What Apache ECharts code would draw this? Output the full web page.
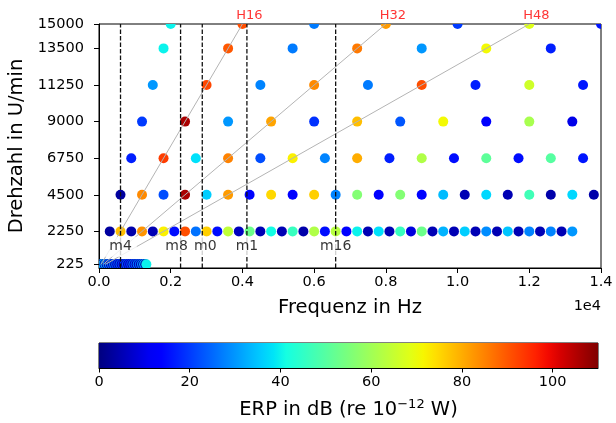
<!DOCTYPE html>
<html><head><meta charset="utf-8">
<script src="https://cdn.jsdelivr.net/npm/echarts@6/dist/echarts.min.js"></script>
<style>html,body{margin:0;padding:0;background:#fff}#c{width:616px;height:423px}</style>
</head><body><div id="c"></div>
<script>
// ---------- data ----------
const yTicks = [225, 2250, 4500, 6750, 9000, 11250, 13500, 15000];
const cbTicks = [0, 20, 40, 60, 80, 100];

const f225 = [30,60,90,120,150,180,210,240,270,300,330,360,390,420,450,480,510,540,570,600,630,660,690,720,750,780,810,840,870,900,930,960,990,1020,1050,1080,1110,1140,1170,1200,1230,1260,1290,1320];
const e225 = [4,38,4,36,5,34,4,30,5,28,4,26,5,28,4,24,5,22,4,24,5,20,4,22,5,24,4,20,5,22,4,26,5,24,4,28,5,26,4,30,5,34,4,40];

const f2250 = [300,600,900,1200,1500,1800,2100,2400,2700,3000,3300,3600,3900,4200,4500,4800,5100,5400,5700,6000,6300,6600,6900,7200,7500,7800,8100,8400,8700,9000,9300,9600,9900,10200,10500,10800,11100,11400,11700,12000,12300,12600,12900,13200];
const e2250 = [3,78,4,83,5,72,15,91,26,76,15,64,6,53,5,41,5,46,4,62,15,63,13,40,5,38,5,46,9,53,5,33,5,36,5,29,5,35,5,28,5,28,5,30];

const f4500 = [600,1200,1800,2400,3000,3600,4200,4800,5400,6000,6600,7200,7800,8400,9000,9600,10200,10800,11400,12000,12600,13200,13800];
const e4500 = [3,84,22,106,36,82,14,75,13,76,28,56,13,56,14,34,5,37,5,47,4,37,4];

const f6750 = [900,1800,2700,3600,4500,5400,6300,7200,8100,9000,9900,10800,11700,12600,13500];
const e6750 = [17,93,38,85,22,72,28,80,17,62,15,51,15,50,16];

const f9000 = [1200,2400,3600,4800,6000,7200,8400,9600,10800,12000,13200];
const e9000 = [20,106,30,81,19,78,23,71,12,61,10];

const f11250 = [1500,3000,4500,6000,7500,9000,10500,12000,13500];
const e11250 = [30,92,28,84,27,91,17,66,16];

const f13500 = [1800,3600,5400,7200,9000,10800,12600];
const e13500 = [40,90,27,86,30,71,17];

const f15000 = [2000,4000,6000,8000,10000,12000,14000];
const e15000 = [40,91,27,82,20,68,16];

// order lines (Hz at 225 and 15000 U/min)
const orderNames = ['H16', 'H32', 'H48'];
const orderLow = [[60,225],[120,225],[180,225]];
const orderHigh = [[4000,15000],[8000,15000],[12000,15000]];

// mode lines
const modeNames = ['m4','m8','m0','m1','m16'];
const modeFreq = [600, 2275, 2880, 4125, 6600];

// ---------- helpers ----------
function jet(t){
  t = Math.max(0, Math.min(1, t));
  let r, g, b;
  r = t < 0.35 ? 0 : t < 0.66 ? (t-0.35)/0.31 : t < 0.89 ? 1 : 1 - 0.5*(t-0.89)/0.11;
  g = t < 0.125 ? 0 : t < 0.375 ? (t-0.125)/0.25 : t < 0.64 ? 1 : t < 0.91 ? 1-(t-0.64)/0.27 : 0;
  b = t < 0.11 ? 0.5 + 0.5*t/0.11 : t < 0.34 ? 1 : t < 0.65 ? 1-(t-0.34)/0.31 : 0;
  return 'rgb(' + Math.round(r*255) + ',' + Math.round(g*255) + ',' + Math.round(b*255) + ')';
}
const CMAX = 110;
const rows = [
  [225, f225, e225], [2250, f2250, e2250], [4500, f4500, e4500], [6750, f6750, e6750],
  [9000, f9000, e9000], [11250, f11250, e11250], [13500, f13500, e13500], [15000, f15000, e15000]
];
const points = [];
rows.forEach(([rpm, fs, es]) => fs.forEach((f, i) => points.push([f, rpm, es[i]])));

const FONT = 'DejaVu Sans';
const stops = [];
for (let i = 0; i <= 40; i++) stops.push({offset: i/40, color: jet(i/40)});

const series = [];
series.push({
  type: 'custom', xAxisIndex: 0, yAxisIndex: 0, clip: true, z: 2, silent: true,
  data: points,
  renderItem: function(params, api){
    const p = api.coord([api.value(0), api.value(1)]);
    return {type: 'circle', shape: {cx: p[0], cy: p[1], r: 5}, style: {fill: jet(api.value(2)/CMAX)}};
  }
});
orderNames.forEach((n, i) => {
  series.push({type: 'line', xAxisIndex: 0, yAxisIndex: 0, z: 3, silent: true, symbol: 'none',
    data: [orderLow[i], orderHigh[i]], lineStyle: {color: '#b4b4b4', width: 1}});
});
modeFreq.forEach((f) => {
  series.push({type: 'line', xAxisIndex: 0, yAxisIndex: 0, z: 3, silent: true, symbol: 'none',
    data: [[f, 0], [f, 15000]], lineStyle: {color: '#111', width: 1.3, type: [4.5, 2]}});
});
const modeLabelRpm = 1300;
const modeOffsets = [[0,0],[-4,0],[3,0],[0,0],[0,0]];
series.push({
  type: 'scatter', xAxisIndex: 0, yAxisIndex: 0, z: 5, silent: true, clip: false, symbolSize: 0,
  data: modeFreq.map((f, i) => ({name: modeNames[i], value: [f, modeLabelRpm],
    label: {offset: modeOffsets[i]}})),
  label: {show: true, position: 'inside', formatter: '{b}', color: '#000', fontFamily: FONT,
    fontSize: 14, lineHeight: 16, backgroundColor: '#fff', padding: [2, 5]}
});
series.push({
  type: 'scatter', xAxisIndex: 0, yAxisIndex: 0, z: 5, silent: true, clip: false, symbolSize: 0,
  data: orderHigh.map((p, i) => ({name: orderNames[i], value: p})),
  label: {show: true, position: 'top', distance: 1, offset: [7, 0], formatter: '{b}', color: '#ff0000',
    fontFamily: FONT, fontSize: 13, lineHeight: 15}
});
// colorbar
series.push({
  type: 'bar', xAxisIndex: 1, yAxisIndex: 1, silent: true, barWidth: '100%',
  data: [CMAX],
  itemStyle: {color: {type: 'linear', x: 0, y: 0, x2: 1, y2: 0, colorStops: stops}}
});

const axLine = {show: true, lineStyle: {color: '#000', width: 1}};
const option = {
  animation: false,
  textStyle: {fontFamily: FONT},
  grid: [
    {left: 99, top: 24, width: 502, height: 244, show: true, borderColor: '#000', borderWidth: 1,
     backgroundColor: 'transparent', containLabel: false, outerBoundsMode: 'none'},
    {left: 99, top: 343, width: 499, height: 25, show: true, borderColor: '#000', borderWidth: 1,
     backgroundColor: 'transparent', containLabel: false, outerBoundsMode: 'none'}
  ],
  xAxis: [
    {type: 'value', gridIndex: 0, min: 0, max: 14000, interval: 2000,
     axisLine: axLine, splitLine: {show: false},
     axisTick: {show: true, length: 5, lineStyle: {color: '#000'}},
     axisLabel: {fontSize: 14.5, color: '#000', margin: 7, fontFamily: FONT,
       formatter: v => (v/10000).toFixed(1)},
     name: 'Frequenz in Hz', nameLocation: 'middle', nameGap: 30,
     nameTextStyle: {fontSize: 19.5, color: '#000', fontFamily: FONT}},
    {type: 'value', gridIndex: 1, min: 0, max: CMAX,
     axisLine: axLine, splitLine: {show: false},
     axisTick: {show: true, length: 4.5, lineStyle: {color: '#000'}, customValues: cbTicks},
     axisLabel: {fontSize: 14.5, color: '#000', margin: 7, fontFamily: FONT, customValues: cbTicks,
       formatter: v => String(v)},
     name: 'ERP in dB (re 10{sup|−12} W)', nameLocation: 'middle', nameGap: 30,
     nameTextStyle: {fontSize: 19.5, color: '#000', fontFamily: FONT, lineHeight: 24,
       rich: {sup: {fontSize: 13, lineHeight: 13, verticalAlign: 'top', color: '#000', fontFamily: FONT}}}}
  ],
  yAxis: [
    {type: 'value', gridIndex: 0, min: 0, max: 15000,
     axisLine: axLine, splitLine: {show: false},
     axisTick: {show: true, length: 5, lineStyle: {color: '#000'}, customValues: yTicks},
     axisLabel: {fontSize: 14.5, color: '#000', margin: 15, fontFamily: FONT, customValues: yTicks,
       formatter: v => String(v)},
     name: 'Drehzahl in U/min', nameLocation: 'middle', nameGap: 67,
     nameTextStyle: {fontSize: 19.5, color: '#000', fontFamily: FONT}},
    {type: 'category', gridIndex: 1, data: ['cb'], show: false}
  ],
  graphic: [
    {type: 'text', right: 15, top: 299, style: {text: '1e4', fontSize: 14.5, fontFamily: FONT, fill: '#000'}}
  ],
  series: series
};
echarts.init(document.getElementById('c')).setOption(option);
</script>
</body></html>
